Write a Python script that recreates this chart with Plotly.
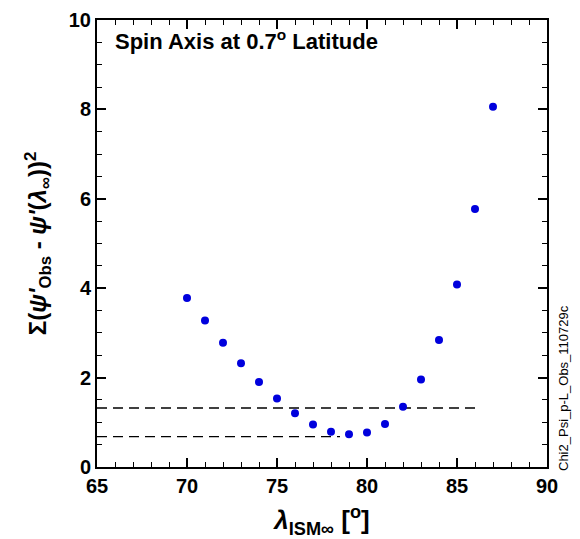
import plotly.graph_objects as go

lam = [70, 71, 72, 73, 74, 75, 76, 77, 78, 79, 80, 81, 82, 83, 84, 85, 86, 87]
chi2 = [3.78, 3.28, 2.78, 2.32, 1.90, 1.53, 1.20, 0.95, 0.79, 0.73, 0.77, 0.96, 1.35, 1.96, 2.84, 4.08, 5.77, 8.06]

upper_x = [65, 86]
upper_y = [1.32, 1.32]
lower_x = [65, 78.5]
lower_y = [0.68, 0.68]

FONT = "Liberation Sans, Arial, Helvetica, sans-serif"

# page body has an 8px offset; plot area target: x 97..547, y 20..467 in the screenshot
L, T, PW, PH = 89, 12, 450, 447

fig = go.Figure()
fig.add_trace(go.Scatter(x=upper_x, y=upper_y, mode="lines",
                         line=dict(color="black", width=1.3, dash="10px,6px"), showlegend=False))
fig.add_trace(go.Scatter(x=lower_x, y=lower_y, mode="lines",
                         line=dict(color="black", width=1.3, dash="10px,6px"), showlegend=False))
fig.add_trace(go.Scatter(x=lam, y=chi2, mode="markers",
                         marker=dict(color="#0000dd", size=8), showlegend=False))

axis_common = dict(
    automargin=False,
    showgrid=False, zeroline=False, showline=True, linecolor="black", linewidth=2,
    mirror="ticks", ticks="inside", ticklen=9, tickwidth=1.5, tickcolor="black",
    tickfont=dict(family=FONT, size=20, color="black", weight="bold"),
)

fig.update_layout(
    width=580, height=539,
    margin=dict(l=L, r=580 - L - PW, t=T, b=539 - T - PH, autoexpand=False),
    paper_bgcolor="white", plot_bgcolor="white",
    xaxis=dict(range=[65, 90], dtick=5, tick0=65,
               minor=dict(dtick=1, ticklen=5, ticks="inside", tickcolor="black", tickwidth=1),
               title=dict(text="<i>λ</i><sub>ISM∞</sub> [<sup>o</sup>]",
                          font=dict(family=FONT, size=26, color="black", weight="bold")),
               **axis_common),
    yaxis=dict(range=[0, 10], dtick=2, tick0=0,
               minor=dict(dtick=0.5, ticklen=5, ticks="inside", tickcolor="black", tickwidth=1),
               title=dict(text="Σ(<i>ψ'</i><sub>Obs</sub> - <i>ψ'</i>(<i>λ</i><sub>∞</sub>))<sup>2</sup>",
                          font=dict(family=FONT, size=24, color="black", weight="bold")),
               **axis_common),
    annotations=[
        dict(text="Spin Axis at 0.7<sup>o</sup> Latitude",
             x=(113 - 97) / PW, y=(467 - 40) / PH, xref="paper", yref="paper",
             xanchor="left", yanchor="middle", showarrow=False,
             font=dict(family=FONT, size=22, color="black", weight="bold")),
        dict(text="Chi2_Psi_p-L_Obs_110729c",
             x=(563 - 97) / PW, y=(467 - 388) / PH, xref="paper", yref="paper",
             xanchor="center", yanchor="middle",
             showarrow=False, textangle=-90, font=dict(family=FONT, size=13, color="black")),
    ],
)

fig.write_html("out.html")
